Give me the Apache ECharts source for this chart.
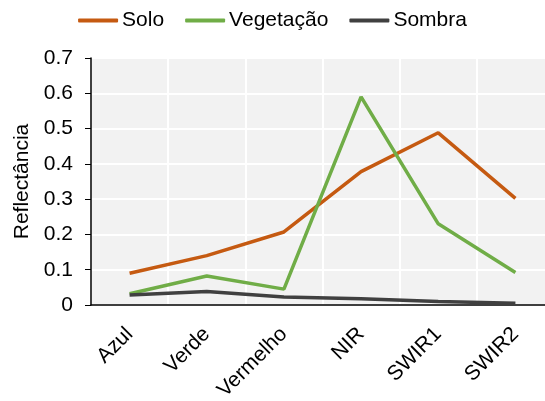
<!DOCTYPE html>
<html>
<head>
<meta charset="utf-8">
<script src="https://cdn.jsdelivr.net/npm/echarts@6/dist/echarts.min.js"></script>
<style>
  html, body { margin: 0; padding: 0; background: #fff; }
  #chart { width: 545px; height: 401px; }
</style>
</head>
<body>
<div id="chart"></div>
<script>
// bands
const categories = ['Azul', 'Verde', 'Vermelho', 'NIR', 'SWIR1', 'SWIR2'];
// reflectance per band
const solo = [0.09, 0.14, 0.207, 0.378, 0.488, 0.302];
const vegetacao = [0.032, 0.082, 0.045, 0.59, 0.23, 0.092];
const sombra = [0.028, 0.038, 0.023, 0.018, 0.01, 0.005];

const chart = echarts.init(document.getElementById('chart'));
const font = 'Liberation Sans, Arial, sans-serif';

const mkSeries = (name, data, color) => ({
  name: name,
  type: 'line',
  data: data,
  symbol: 'none',
  lineStyle: { color: color, width: 3.5 },
  itemStyle: { color: color },
});

chart.setOption({
  animation: false,
  textStyle: { fontFamily: font },
  legend: {
    top: 5,
    left: 'center',
    icon: 'roundRect',
    itemWidth: 40,
    itemHeight: 4,
    itemGap: 21,
    textStyle: { fontSize: 21, color: '#000', fontFamily: font, padding: [0, 0, 0, -1] },
    data: ['Solo', 'Vegetação', 'Sombra'],
  },
  grid: {
    left: 91, top: 58, right: -9, bottom: 96,
    outerBoundsMode: 'none',
    show: true, backgroundColor: '#f2f2f2', borderWidth: 0,
  },
  xAxis: {
    type: 'category',
    data: categories,
    boundaryGap: true,
    axisLine: { lineStyle: { color: '#000', width: 1.5 } },
    axisTick: { alignWithLabel: true, length: 6, lineStyle: { color: '#000' } },
    axisLabel: { rotate: 45, fontSize: 21, color: '#000', margin: 26, fontFamily: font },
    splitLine: { show: true, lineStyle: { color: '#fff', width: 2 } },
  },
  yAxis: {
    type: 'value',
    min: 0, max: 0.7, interval: 0.1,
    name: 'Reflectância',
    nameLocation: 'middle',
    nameGap: 56,
    nameTextStyle: { fontSize: 21, color: '#000', fontFamily: font },
    axisLine: { show: true, lineStyle: { color: '#000', width: 1.5 } },
    axisTick: { show: true, length: 6, lineStyle: { color: '#000' } },
    axisLabel: { fontSize: 21, color: '#000', margin: 18, fontFamily: font },
    splitLine: { show: true, lineStyle: { color: '#fff', width: 2 } },
  },
  series: [
    mkSeries('Solo', solo, '#c55a11'),
    mkSeries('Vegetação', vegetacao, '#70ad47'),
    mkSeries('Sombra', sombra, '#404040'),
  ],
});
</script>
</body>
</html>
